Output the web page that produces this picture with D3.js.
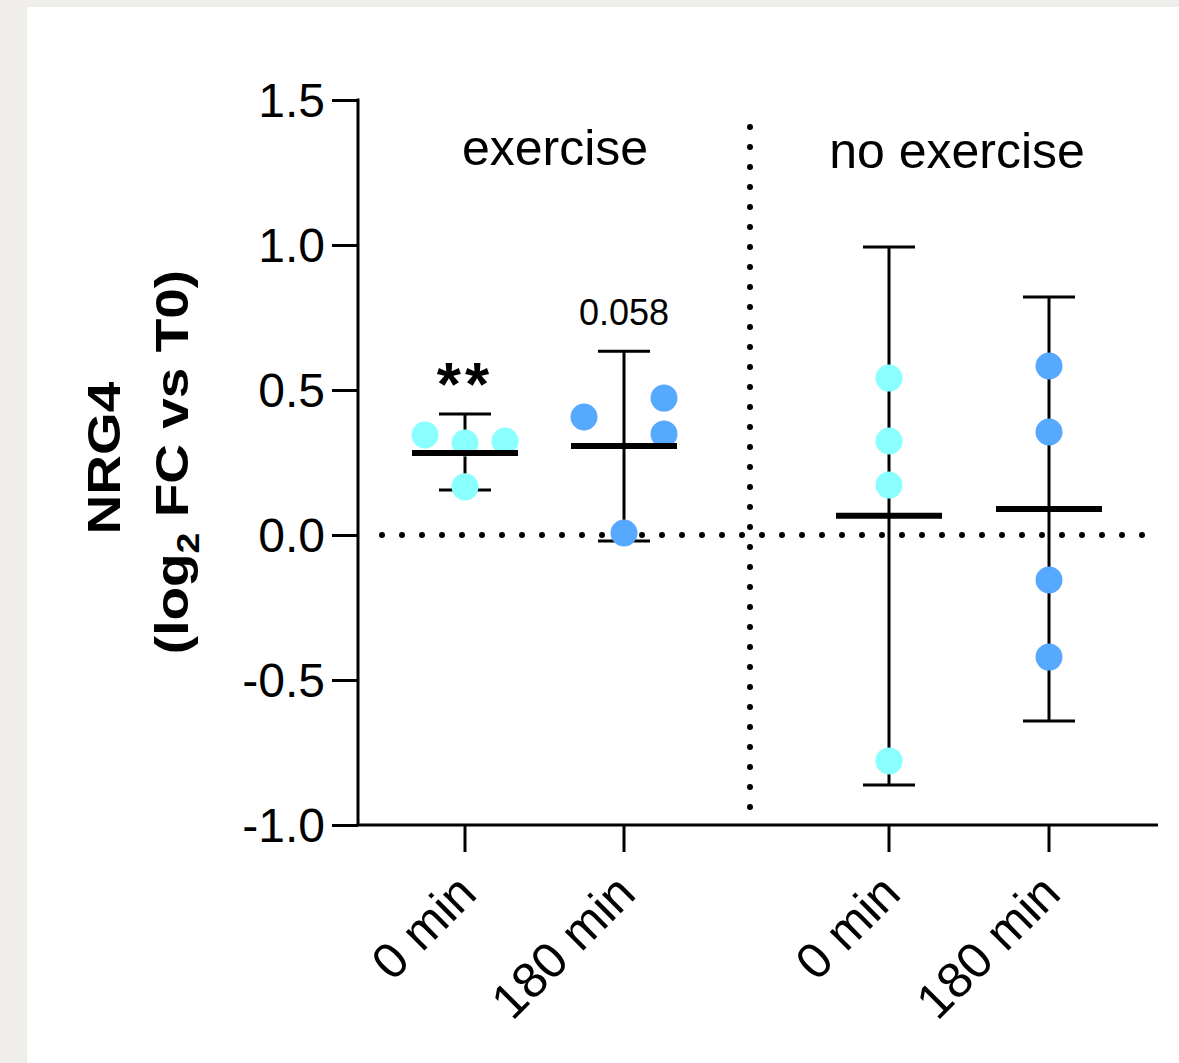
<!DOCTYPE html>
<html>
<head>
<meta charset="utf-8">
<title>NRG4</title>
<script src="https://cdn.jsdelivr.net/npm/d3@7"></script>
<style>
  html, body { margin: 0; padding: 0; background: #efeeeb; }
  svg { display: block; }
  text { font-family: "Liberation Sans", Arial, sans-serif; }
</style>
</head>
<body>
<script>
// data
var groups = ["exercise", "exercise", "no exercise", "no exercise"];
var timeLabels = ["0 min", "180 min", "0 min", "180 min"];
var pointValues = [
  [0.345, 0.317, 0.324, 0.166],
  [0.407, 0.472, 0.348, 0.007],
  [0.541, 0.324, 0.172, -0.779],
  [0.583, 0.355, -0.155, -0.421]
];
var pointOffsets = [
  [-1, 0, 1, 0],
  [-1, 1, 1, 0],
  [0, 0, 0, 0],
  [0, 0, 0, 0]
];
var means = [0.283, 0.307, 0.066, 0.090];
var errLow = [0.155, -0.021, -0.862, -0.641];
var errHigh = [0.417, 0.634, 0.993, 0.821];
var annotations = ["**", "0.058", "", ""];
var yTicks = [1.5, 1.0, 0.5, 0.0, -0.5, -1.0];
var colors = ["#8affff", "#57a8ff", "#8affff", "#57a8ff"];

var width = 1179, height = 1063;
var svg = d3.select("body").append("svg").attr("width", width).attr("height", height);

// white card
svg.append("rect").attr("x", 27).attr("y", 7).attr("width", width - 27).attr("height", height - 7).attr("fill", "#fff");

var y = d3.scaleLinear().domain([-1, 1.5]).range([825, 100]);
// positions along x (gap between the two groups)
var x = d3.scaleLinear().domain([0, 1]).range([465, 624]);
var xPos = [x(0), x(1), 889, 1049];
var x0 = 358, x1 = 1158;

// dotted reference lines
svg.append("line").attr("x1", 382).attr("x2", 1144).attr("y1", y(0)).attr("y2", y(0))
  .attr("stroke", "#000").attr("stroke-width", 6).attr("stroke-linecap", "round")
  .attr("stroke-dasharray", "0 20");
svg.append("line").attr("x1", 750).attr("x2", 750).attr("y1", 127).attr("y2", 809)
  .attr("stroke", "#000").attr("stroke-width", 6).attr("stroke-linecap", "round")
  .attr("stroke-dasharray", "0 20");

// y axis
var yAxis = d3.axisLeft(y).tickValues(yTicks).tickSize(26).tickPadding(7);
var gy = svg.append("g").attr("transform", "translate(" + x0 + ",0)").call(yAxis);
gy.select(".domain").attr("d", "M0," + y(-1) + "V" + (y(1.5) - 1.5)).attr("stroke-width", 3);
gy.selectAll(".tick line").attr("stroke-width", 3);
gy.selectAll(".tick text").attr("font-size", 48).attr("fill", "#000").attr("dy", "0.35em")
  .text(function (d) { return d.toFixed(1); });

// x axis
svg.append("line").attr("x1", x0 - 1.5).attr("x2", x1).attr("y1", 825).attr("y2", 825)
  .attr("stroke", "#000").attr("stroke-width", 3);
svg.selectAll(".xtick").data(xPos).enter().append("line")
  .attr("x1", function (d) { return d; }).attr("x2", function (d) { return d; })
  .attr("y1", 825).attr("y2", 852).attr("stroke", "#000").attr("stroke-width", 3);
svg.selectAll(".xlab").data(timeLabels).enter().append("text")
  .attr("text-anchor", "end").attr("font-size", 50).attr("fill", "#000")
  .attr("transform", function (d, i) { return "translate(" + (xPos[i] + 14) + ",896) rotate(-45)"; })
  .text(function (d) { return d; });

// error bars
var bars = svg.selectAll(".err").data(means).enter().append("g");
bars.append("line")
  .attr("x1", function (d, i) { return xPos[i]; }).attr("x2", function (d, i) { return xPos[i]; })
  .attr("y1", function (d, i) { return y(errLow[i]); }).attr("y2", function (d, i) { return y(errHigh[i]); })
  .attr("stroke", "#000").attr("stroke-width", 3);
bars.append("line")
  .attr("x1", function (d, i) { return xPos[i] - 26; }).attr("x2", function (d, i) { return xPos[i] + 26; })
  .attr("y1", function (d, i) { return y(errHigh[i]); }).attr("y2", function (d, i) { return y(errHigh[i]); })
  .attr("stroke", "#000").attr("stroke-width", 3);
bars.append("line")
  .attr("x1", function (d, i) { return xPos[i] - 26; }).attr("x2", function (d, i) { return xPos[i] + 26; })
  .attr("y1", function (d, i) { return y(errLow[i]); }).attr("y2", function (d, i) { return y(errLow[i]); })
  .attr("stroke", "#000").attr("stroke-width", 3);

// points
pointValues.forEach(function (vals, i) {
  svg.selectAll(".pt" + i).data(vals).enter().append("circle")
    .attr("cx", function (d, j) { return xPos[i] + pointOffsets[i][j] * 40; })
    .attr("cy", function (d) { return y(d); })
    .attr("r", 13.5)
    .attr("fill", colors[i]);
});

// mean lines
svg.selectAll(".mean").data(means).enter().append("line")
  .attr("x1", function (d, i) { return xPos[i] - 53; }).attr("x2", function (d, i) { return xPos[i] + 53; })
  .attr("y1", function (d) { return y(d); }).attr("y2", function (d) { return y(d); })
  .attr("stroke", "#000").attr("stroke-width", 6);

// annotations
svg.append("text").attr("x", xPos[0]).attr("y", 405).attr("text-anchor", "middle")
  .attr("font-size", 62).attr("font-weight", "bold").attr("letter-spacing", 4).text(annotations[0]);
svg.append("text").attr("x", xPos[1]).attr("y", 325).attr("text-anchor", "middle")
  .attr("font-size", 36).text(annotations[1]);

// group titles
svg.append("text").attr("x", 555).attr("y", 165).attr("text-anchor", "middle")
  .attr("font-size", 50).text(groups[0]);
svg.append("text").attr("x", 957).attr("y", 168).attr("text-anchor", "middle")
  .attr("font-size", 50).text(groups[2]);

// y title
var yt1 = svg.append("text").attr("transform", "translate(120,458) rotate(-90) scale(1.17,1)")
  .attr("text-anchor", "middle").attr("font-size", 47).attr("font-weight", "bold").text("NRG4");
var yt2 = svg.append("text").attr("transform", "translate(188,462) rotate(-90) scale(1.17,1)")
  .attr("text-anchor", "middle").attr("font-size", 47).attr("font-weight", "bold");
yt2.append("tspan").text("(log");
yt2.append("tspan").attr("font-size", 32).attr("dy", 11).text("2");
yt2.append("tspan").attr("dy", -11).text(" FC vs T0)");
</script>
</body>
</html>
